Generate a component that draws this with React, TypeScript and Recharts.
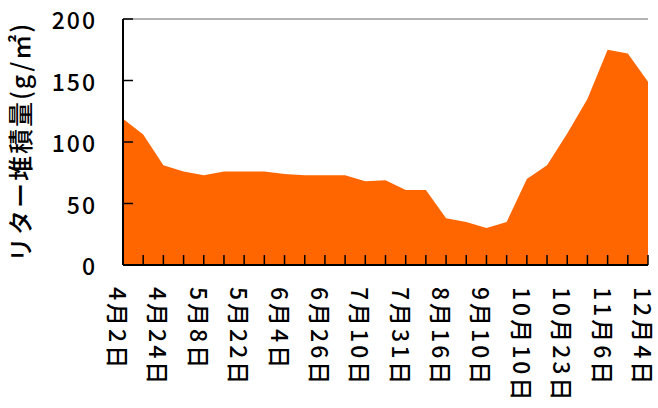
import { AreaChart, Area, XAxis, YAxis, CartesianGrid } from 'recharts';

// リター堆積量 (g/㎡), one value per survey date
const litter = [
  119, 106, 81, 76, 73, 76, 76, 76, 74, 73, 73, 73, 68, 69,
  61, 61, 38, 35, 30, 35, 70, 81, 107, 135, 175, 172, 149,
];

// labels shown on every other survey date
const dateLabels = [
  '4月2日', '4月24日', '5月8日', '5月22日', '6月4日', '6月26日', '7月10日',
  '7月31日', '8月16日', '9月10日', '10月10日', '10月23日', '11月6日', '12月4日',
];

const yTicks = [0, 50, 100, 150, 200];

const data = litter.map((v, i) => ({
  idx: i,
  label: i % 2 === 0 ? dateLabels[i / 2] : '',
  value: v,
}));

const FONT = '"Noto Sans CJK JP", sans-serif';

const XTick = (props: any) => {
  const { x, y, payload } = props;
  const label = data[payload.index]?.label ?? '';
  return (
    <g>
      <line x1={x} y1={y} x2={x} y2={y - 10} stroke="#000" strokeWidth={1.5} />
      {label && (
        <text
          x={x - 4}
          y={y + 22}
          transform={`rotate(90, ${x - 4}, ${y + 22})`}
          textAnchor="start"
          dominantBaseline="central"
          fontFamily={FONT}
          fontSize={23}
          fontWeight={500}
          letterSpacing={3}
          fill="#000"
        >
          {label}
        </text>
      )}
    </g>
  );
};

const YTick = (props: any) => {
  const { x, y, payload } = props;
  return (
    <g>
      <line x1={x} y1={y} x2={x + 10} y2={y} stroke="#000" strokeWidth={1.5} />
      <text
        x={x - 26}
        y={y}
        textAnchor="end"
        dominantBaseline="central"
        fontFamily={FONT}
        fontSize={23}
        fontWeight={500}
        letterSpacing={2}
        fill="#000"
      >
        {payload.value}
      </text>
    </g>
  );
};

export default function App() {
  return (
    <div style={{ position: 'absolute', left: 0, top: 0, background: '#fff' }}>
      <AreaChart
        width={658}
        height={408}
        data={data}
        margin={{ top: 19, right: 10, bottom: 0, left: 0 }}
      >
        <CartesianGrid vertical={false} stroke="#666" strokeWidth={1} />
        <XAxis
          dataKey="idx"
          type="category"
          interval={0}
          tickSize={0}
          tickMargin={0}
          tick={<XTick />}
          axisLine={{ stroke: '#000', strokeWidth: 2 }}
          tickLine={false}
          height={143}
        />
        <YAxis
          yAxisId="left"
          domain={[0, 200]}
          ticks={yTicks}
          width={123}
          tickSize={0}
          tickMargin={0}
          tick={<YTick />}
          tickLine={false}
          axisLine={{ stroke: '#000', strokeWidth: 2 }}
          label={{
            value: 'リター堆積量(g/㎡)',
            angle: -90,
            position: 'insideLeft',
            offset: 21,
            style: { fontFamily: FONT, fontSize: 25, fontWeight: 500, fill: '#000', letterSpacing: 2, textAnchor: 'middle' },
          }}
        />
        <YAxis
          yAxisId="right"
          orientation="right"
          domain={[0, 200]}
          width={0}
          tick={false}
          tickLine={false}
          axisLine={{ stroke: '#999', strokeWidth: 2 }}
        />
        <Area
          yAxisId="left"
          type="linear"
          dataKey="value"
          stroke="none"
          fill="#FF6600"
          fillOpacity={1}
          isAnimationActive={false}
        />
      </AreaChart>
    </div>
  );
}
